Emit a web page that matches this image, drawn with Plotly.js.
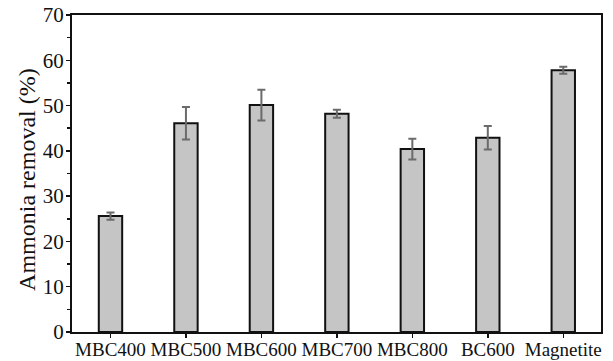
<!DOCTYPE html>
<html>
<head>
<meta charset="utf-8">
<script src="https://cdn.plot.ly/plotly-3.0.1.min.js"></script>
<style>
  html, body { margin: 0; padding: 0; background: #fff; }
  #chart { width: 613px; height: 361px; }
</style>
</head>
<body>
<div id="chart"></div>
<script>
// Adsorbent samples and their ammonia removal (mean ± error)
const categories = ["MBC400", "MBC500", "MBC600", "MBC700", "MBC800", "BC600", "Magnetite"];
const removal = [25.6, 46.1, 50.1, 48.2, 40.4, 42.9, 57.8];
const removalErr = [0.8, 3.6, 3.4, 0.9, 2.3, 2.6, 0.75];
const yTickValues = [0, 10, 20, 30, 40, 50, 60, 70];

const serif = "'Liberation Serif', 'Times New Roman', serif";

const trace = {
  type: "bar",
  x: categories,
  y: removal,
  width: 0.31,
  marker: { color: "#c6c5c6", line: { color: "#111", width: 2 } },
  error_y: {
    type: "data",
    array: removalErr,
    visible: true,
    color: "#6b6b6b",
    thickness: 2,
    width: 4
  },
  hoverinfo: "skip"
};

const layout = {
  width: 613,
  height: 361,
  margin: { l: 72, r: 12, t: 15, b: 29 },
  paper_bgcolor: "#fff",
  plot_bgcolor: "#fff",
  showlegend: false,
  bargap: 0,
  font: { family: serif, color: "#111" },
  xaxis: {
    type: "category",
    range: [-0.51, 6.5],
    showgrid: false,
    zeroline: false,
    showline: true,
    linecolor: "#111",
    linewidth: 2,
    mirror: true,
    ticks: "outside",
    ticklen: 4,
    tickwidth: 1.5,
    tickcolor: "#111",
    ticklabelstandoff: -5,
    tickfont: { family: serif, size: 19, color: "#111" },
    automargin: false
  },
  yaxis: {
    range: [0, 70],
    tickvals: yTickValues,
    showgrid: false,
    zeroline: false,
    showline: true,
    linecolor: "#111",
    linewidth: 2,
    mirror: true,
    ticks: "outside",
    ticklen: 4,
    tickwidth: 1.5,
    tickcolor: "#111",
    ticklabelstandoff: -2,
    tickfont: { family: serif, size: 21, color: "#111" },
    minor: { dtick: 5, ticks: "outside", ticklen: 3, tickwidth: 1.5, tickcolor: "#111", showgrid: false },
    automargin: false
  },
  annotations: [{
    text: "Ammonia removal (%)",
    xref: "paper", yref: "paper",
    x: -0.085, y: 0.48,
    xanchor: "center", yanchor: "middle",
    textangle: -90,
    showarrow: false,
    font: { family: serif, size: 24, color: "#111" }
  }]
};

Plotly.newPlot("chart", [trace], layout, { displayModeBar: false, staticPlot: true });
</script>
</body>
</html>
